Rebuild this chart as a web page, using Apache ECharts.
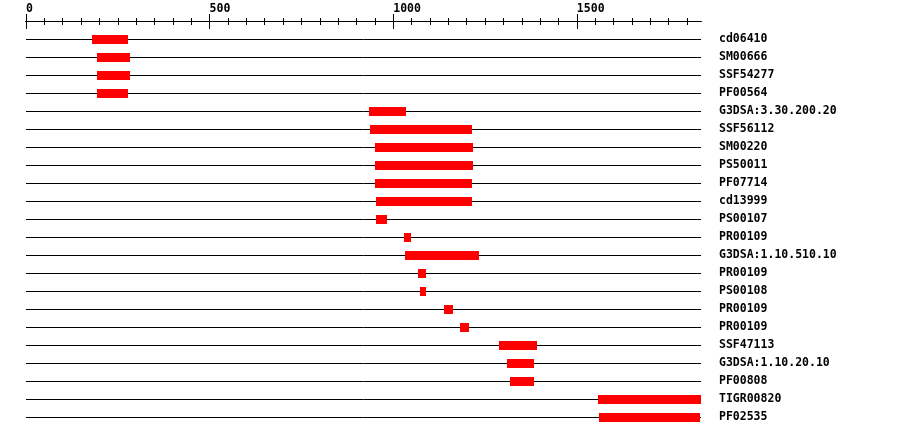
<!DOCTYPE html>
<html>
<head>
<meta charset="utf-8">
<script src="https://cdn.jsdelivr.net/npm/echarts@6/dist/echarts.min.js"></script>
<style>html,body{margin:0;padding:0;background:#fff;}#c{width:900px;height:436px;}</style>
</head>
<body>
<div id="c"></div>
<script>
var proteinLength = 1838;
var majorTicks = [0, 500, 1000, 1500];
var minorStep = 50;
var labels = ["cd06410","SM00666","SSF54277","PF00564","G3DSA:3.30.200.20","SSF56112","SM00220","PS50011","PF07714","cd13999","PS00107","PR00109","G3DSA:1.10.510.10","PR00109","PS00108","PR00109","PR00109","SSF47113","G3DSA:1.10.20.10","PF00808","TIGR00820","PF02535"];
var starts = [181,192,192,192,935,938,949,949,951,954,954,1030,1033,1068,1074,1139,1183,1289,1310,1319,1558,1561];
var ends   = [279,282,282,279,1036,1215,1218,1218,1215,1215,984,1047,1234,1090,1090,1163,1207,1392,1384,1384,1838,1836];

var minorTicks = [];
for (var v = 0; v <= proteinLength; v += minorStep) { minorTicks.push(v); }

var FONT = '"DejaVu Sans Mono", "Liberation Mono", monospace';
var chart = echarts.init(document.getElementById('c'), null, {renderer: 'canvas'});

var lineData = labels.map(function (l, i) { return [i]; });
var barData = labels.map(function (l, i) { return [starts[i], ends[i], i]; });

function mkAxis(tickVals, len, inside, showLabel) {
  return {
    type: 'value', min: 0, max: proteinLength, interval: 500,
    position: 'top', offset: 9, gridIndex: 0,
    splitLine: {show: false},
    axisLine: {show: true, lineStyle: {color: '#000', width: 1}},
    axisTick: {show: true, inside: inside, length: len, customValues: tickVals, lineStyle: {color: '#000', width: 1}},
    minorTick: {show: false},
    axisLabel: showLabel ? {show: true, color: '#000', fontFamily: FONT, fontWeight: 'bold', fontSize: 11.5,
      align: 'left', verticalAlign: 'bottom', margin: 6, customValues: majorTicks,
      formatter: function (v) { return String(v); }} : {show: false}
  };
}

chart.setOption({
  animation: false,
  backgroundColor: '#fff',
  grid: {left: 26, right: 199, top: 30, bottom: 10, containLabel: false},
  xAxis: [
    mkAxis(majorTicks, 7, false, true),
    mkAxis(majorTicks, 8, true, false),
    mkAxis(minorTicks, 3, false, false),
    mkAxis(minorTicks, 4, true, false)
  ],
  yAxis: {
    type: 'category', data: labels, inverse: true, position: 'right',
    axisLine: {show: false}, axisTick: {show: false}, splitLine: {show: false},
    axisLabel: {color: '#000', fontFamily: FONT, fontWeight: 'bold', fontSize: 11.5,
      align: 'left', margin: 18, interval: 0, padding: [2, 0, 0, 0]}
  },
  series: [
    {
      type: 'custom', xAxisIndex: 0, yAxisIndex: 0, silent: true,
      data: lineData,
      renderItem: function (params, api) {
        var a = api.coord([0, api.value(0)]);
        var b = api.coord([proteinLength, api.value(0)]);
        var y = Math.round(a[1]) + 0.5;
        return {type: 'line', shape: {x1: a[0], y1: y, x2: b[0], y2: y},
          style: {stroke: '#000', lineWidth: 1}};
      }
    },
    {
      type: 'custom', xAxisIndex: 0, yAxisIndex: 0, silent: true,
      data: barData,
      encode: {x: [0, 1], y: 2},
      renderItem: function (params, api) {
        var a = api.coord([api.value(0), api.value(2)]);
        var b = api.coord([api.value(1), api.value(2)]);
        var h = 9;
        var y = Math.round(a[1]) - 4;
        return {type: 'rect', shape: {x: Math.round(a[0]), y: y, width: Math.round(b[0]) - Math.round(a[0]), height: h},
          style: {fill: '#ff0000'}};
      }
    }
  ]
});
</script>
</body>
</html>
